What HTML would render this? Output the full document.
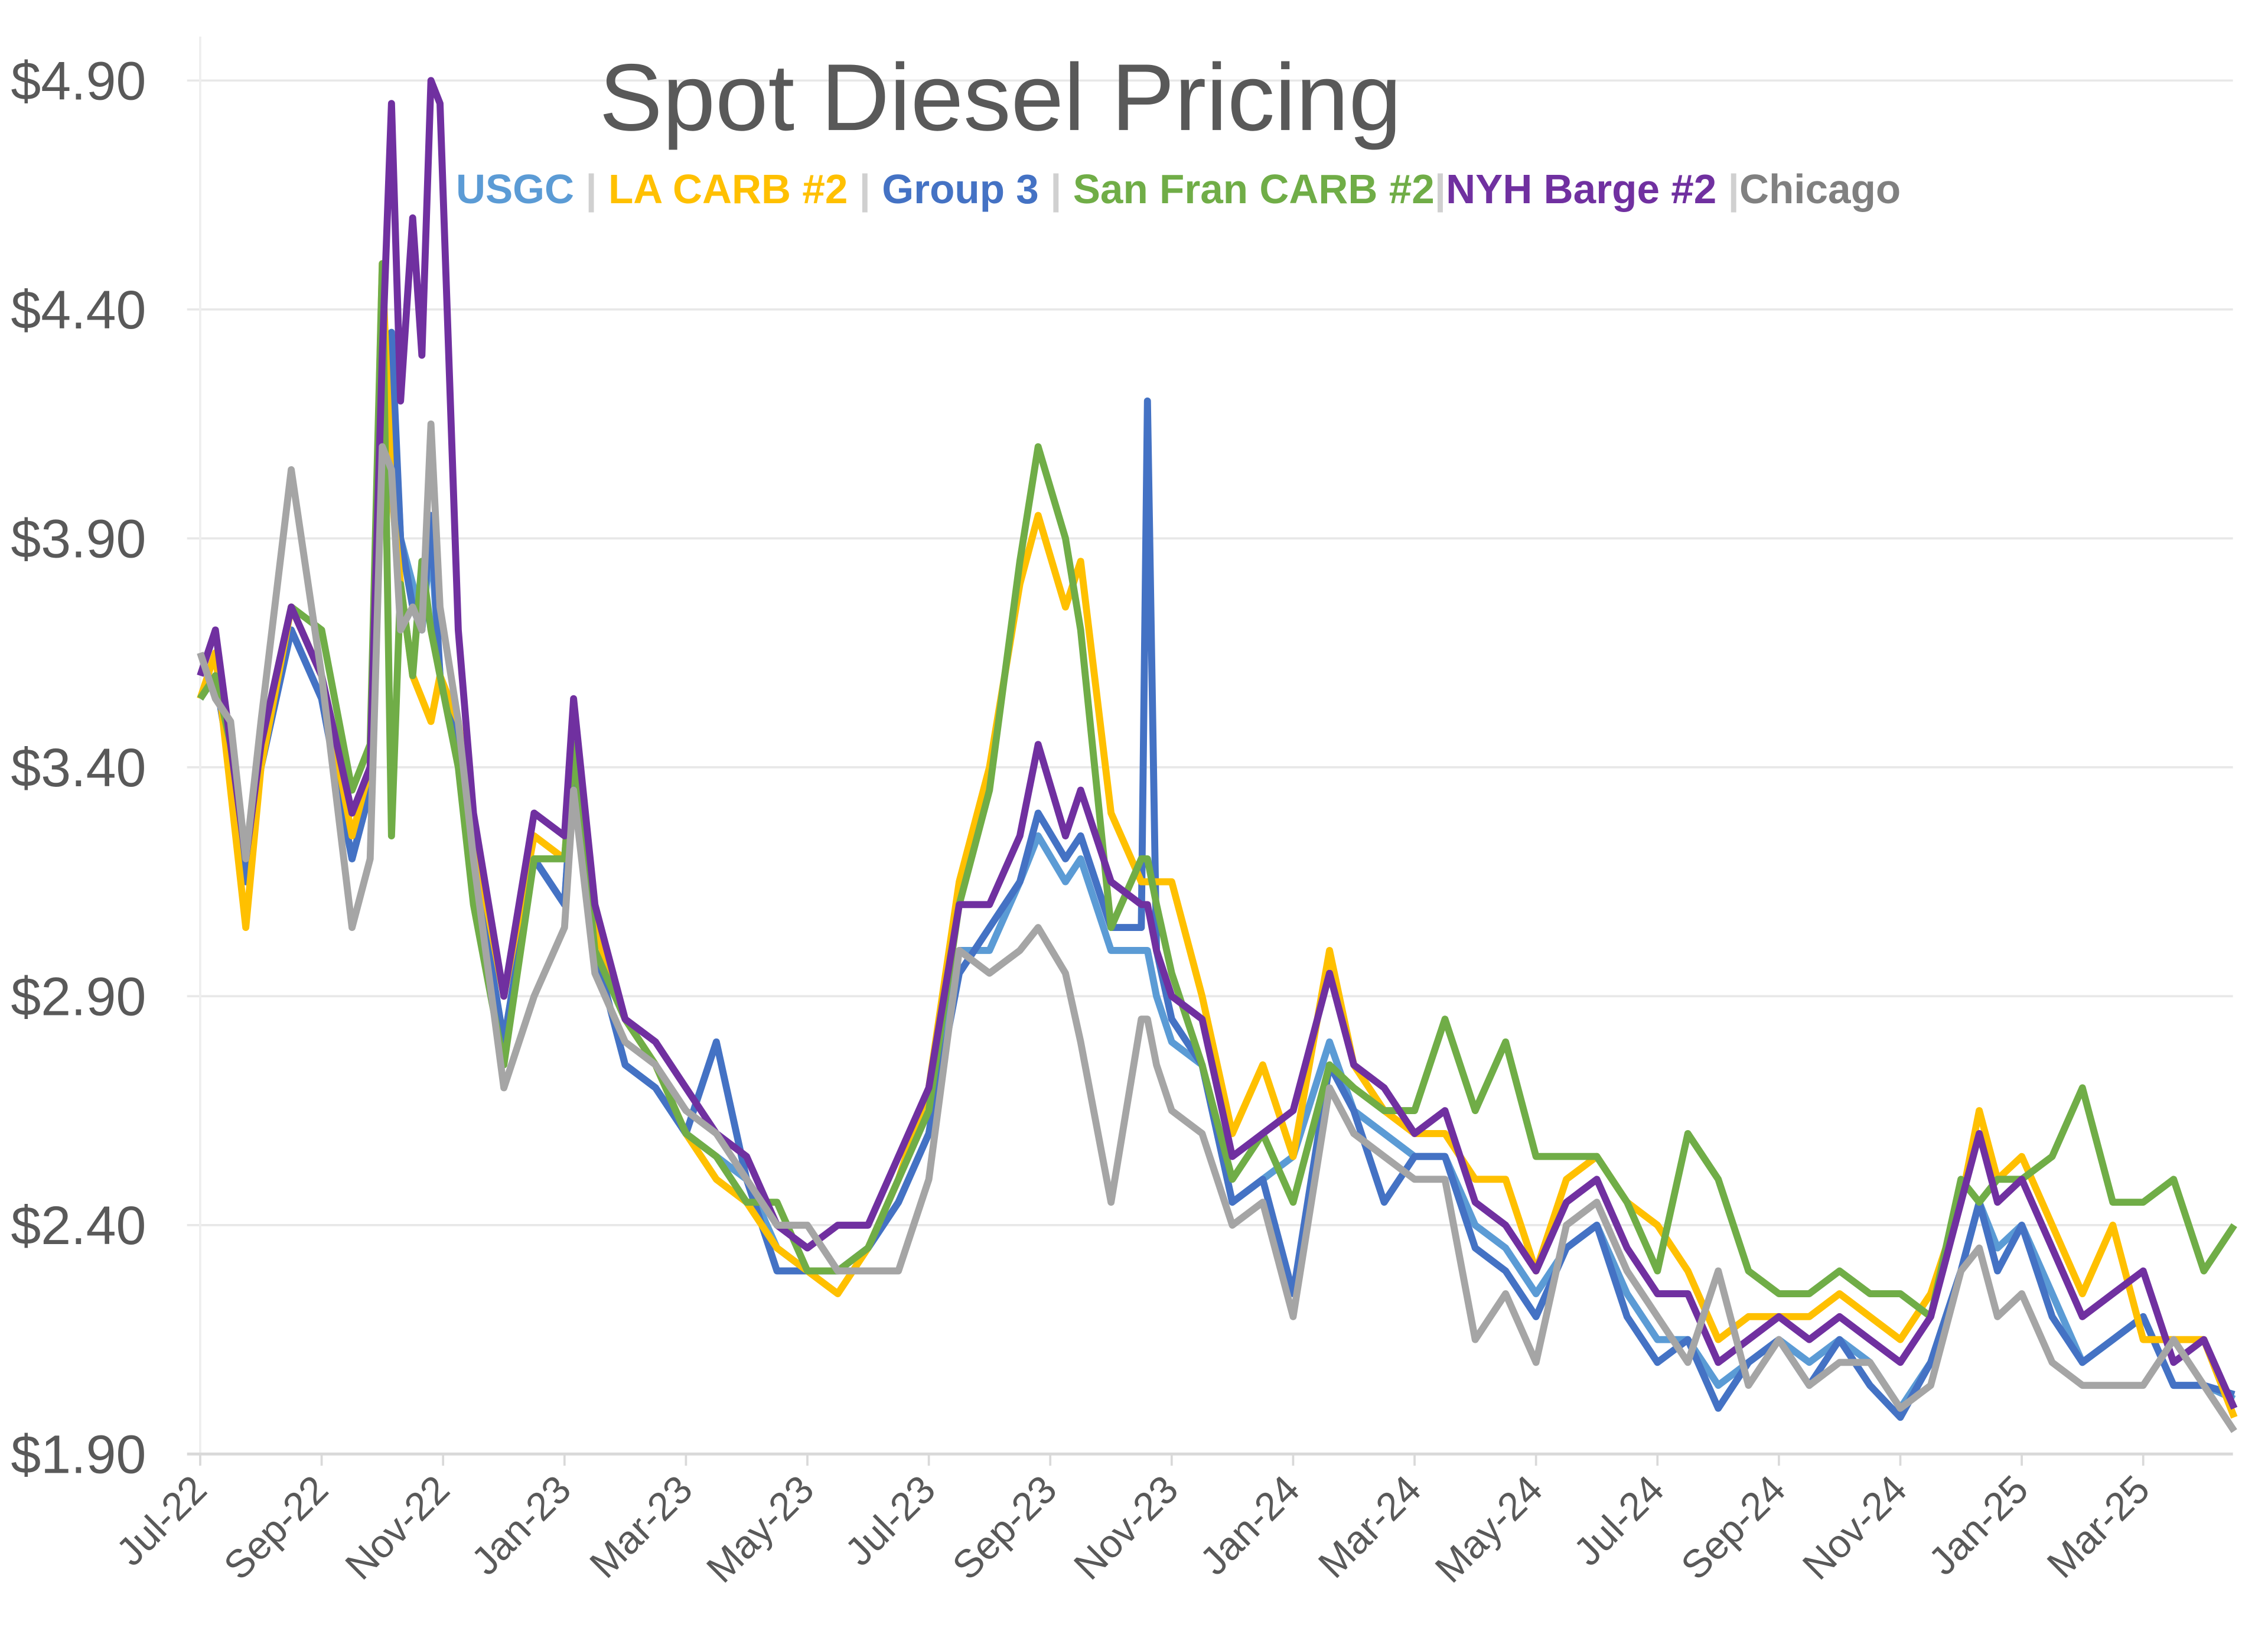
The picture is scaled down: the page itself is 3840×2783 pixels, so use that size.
<!DOCTYPE html>
<html><head><meta charset="utf-8"><title>Spot Diesel Pricing</title>
<style>html,body{margin:0;padding:0;background:#fff}svg{display:block}</style></head>
<body>
<svg id="chart" xmlns="http://www.w3.org/2000/svg" width="3840" height="2783" viewBox="0 0 1552 1125" preserveAspectRatio="none" font-family="'Liberation Sans', sans-serif">
<rect width="1552" height="1125" fill="#fff"/>
<g id="grid"></g>
<g id="yax"></g>
<g id="xax"></g>
<g id="series"></g>
<text x="410" y="89" font-size="65" fill="#595959">Spot Diesel Pricing</text>
<text x="312" y="139" font-size="28" font-weight="bold">
<tspan fill="#5B9BD5">USGC</tspan><tspan fill="#d0d0d0"> | </tspan><tspan fill="#FFC000">LA CARB #2</tspan><tspan fill="#d0d0d0"> | </tspan><tspan fill="#4472C4">Group 3</tspan><tspan fill="#d0d0d0"> | </tspan><tspan fill="#70AD47">San Fran CARB #2</tspan><tspan fill="#d0d0d0">|</tspan><tspan fill="#7030A0">NYH Barge #2</tspan><tspan fill="#d0d0d0"> |</tspan><tspan fill="#808080">Chicago</tspan>
</text>
</svg>
<script>
const months = [0,0.25,0.5,0.75,1,1.5,2,2.5,2.8,3.0,3.15,3.3,3.5,3.65,3.8,3.95,4.25,4.5,5,5.5,6,6.15,6.5,7,7.5,8,8.5,9,9.5,10,10.5,11,11.5,12,12.5,13,13.5,13.8,14.25,14.5,15,15.5,15.6,15.75,16,16.5,17,17.5,18,18.6,19,19.5,20,20.5,21,21.5,22,22.5,23,23.5,24,24.5,25,25.5,26,26.5,27,27.5,28,28.5,29,29.3,29.6,30,30.5,31,31.5,32,32.5,33,33.5];
const usgc = [3.55,3.60,3.40,3.15,3.40,3.70,3.55,3.20,3.35,4.10,4.30,3.90,3.80,3.70,3.90,3.60,3.45,3.20,2.80,3.20,3.10,3.40,3.00,2.75,2.70,2.60,2.55,2.50,2.35,2.30,2.30,2.35,2.45,2.60,3.00,3.00,3.15,3.25,3.15,3.20,3.00,3.00,3.00,2.90,2.80,2.75,2.45,2.50,2.55,2.80,2.65,2.60,2.55,2.55,2.40,2.35,2.25,2.35,2.40,2.25,2.15,2.15,2.05,2.10,2.15,2.10,2.15,2.10,2.00,2.10,2.30,2.45,2.35,2.40,2.25,2.10,2.15,2.20,2.05,2.05,2.02];
const laCarb = [3.55,3.65,3.35,3.05,3.40,3.75,3.60,3.25,3.40,4.50,4.00,3.80,3.60,3.55,3.50,3.60,3.50,3.25,2.90,3.25,3.20,3.45,3.05,2.85,2.75,2.60,2.50,2.45,2.35,2.30,2.25,2.35,2.50,2.70,3.15,3.40,3.80,3.95,3.75,3.85,3.30,3.15,3.15,3.15,3.15,2.90,2.60,2.75,2.55,3.00,2.75,2.65,2.60,2.60,2.50,2.50,2.30,2.50,2.55,2.45,2.40,2.30,2.15,2.20,2.20,2.20,2.25,2.20,2.15,2.25,2.45,2.65,2.50,2.55,2.40,2.25,2.40,2.15,2.15,2.15,1.98];
const group3 = [3.55,3.60,3.40,3.15,3.40,3.70,3.55,3.20,3.35,4.20,4.35,3.90,3.75,3.70,3.95,3.60,3.45,3.20,2.80,3.20,3.10,3.40,3.00,2.75,2.70,2.60,2.80,2.50,2.30,2.30,2.30,2.35,2.45,2.60,2.95,3.05,3.15,3.30,3.20,3.25,3.05,3.05,4.20,3.00,2.85,2.75,2.45,2.50,2.25,2.75,2.65,2.45,2.55,2.55,2.35,2.30,2.20,2.35,2.40,2.20,2.10,2.15,2.00,2.10,2.15,2.05,2.15,2.05,1.98,2.10,2.30,2.45,2.30,2.40,2.20,2.10,2.15,2.20,2.05,2.05,2.03];
const sanFran = [3.55,3.60,3.45,3.20,3.45,3.75,3.70,3.35,3.45,4.50,3.25,3.80,3.60,3.85,3.70,3.60,3.40,3.10,2.75,3.20,3.20,3.45,3.00,2.85,2.75,2.60,2.55,2.45,2.45,2.30,2.30,2.35,2.50,2.65,3.10,3.35,3.85,4.10,3.90,3.70,3.05,3.20,3.20,3.10,2.95,2.75,2.50,2.60,2.45,2.75,2.70,2.65,2.65,2.85,2.65,2.80,2.55,2.55,2.55,2.45,2.30,2.60,2.50,2.30,2.25,2.25,2.30,2.25,2.25,2.20,2.50,2.45,2.50,2.50,2.55,2.70,2.45,2.45,2.50,2.30,2.40];
const nyh = [3.60,3.70,3.45,3.20,3.45,3.75,3.60,3.30,3.40,4.30,4.85,4.20,4.60,4.30,4.90,4.85,3.70,3.30,2.90,3.30,3.25,3.55,3.10,2.85,2.80,2.70,2.60,2.55,2.40,2.35,2.40,2.40,2.55,2.70,3.10,3.10,3.25,3.45,3.25,3.35,3.15,3.10,3.10,3.00,2.90,2.85,2.55,2.60,2.65,2.95,2.75,2.70,2.60,2.65,2.45,2.40,2.30,2.45,2.50,2.35,2.25,2.25,2.10,2.15,2.20,2.15,2.20,2.15,2.10,2.20,2.45,2.60,2.45,2.50,2.35,2.20,2.25,2.30,2.10,2.15,2.00];
const chicago = [3.65,3.55,3.50,3.20,3.50,4.05,3.60,3.05,3.20,4.10,4.05,3.70,3.75,3.70,4.15,3.75,3.50,3.20,2.70,2.90,3.05,3.35,2.95,2.80,2.75,2.65,2.60,2.50,2.40,2.40,2.30,2.30,2.30,2.50,3.00,2.95,3.00,3.05,2.95,2.80,2.45,2.85,2.85,2.75,2.65,2.60,2.40,2.45,2.20,2.70,2.60,2.55,2.50,2.50,2.15,2.25,2.10,2.40,2.45,2.30,2.20,2.10,2.30,2.05,2.15,2.05,2.10,2.10,2.00,2.05,2.30,2.35,2.20,2.25,2.10,2.05,2.05,2.05,2.15,2.05,1.95];
const yTicks = [1.90,2.40,2.90,3.40,3.90,4.40,4.90];
const xTickLabels = ["Jul-22","Sep-22","Nov-22","Jan-23","Mar-23","May-23","Jul-23","Sep-23","Nov-23","Jan-24","Mar-24","May-24","Jul-24","Sep-24","Nov-24","Jan-25","Mar-25"];
const xTickMonths = [0,2,4,6,8,10,12,14,16,18,20,22,24,26,28,30,32];

const NS="http://www.w3.org/2000/svg";
const X0=137, MW=41.55, Y0=995, PX=313.3, PMIN=1.90;
function xs(t){return X0+t*MW;}
function ys(p){return Y0-(p-PMIN)*PX;}
function mk(tag,attrs,parent){const e=document.createElementNS(NS,tag);for(const k in attrs)e.setAttribute(k,attrs[k]);parent.appendChild(e);return e;}

const grid=document.getElementById('grid'), yax=document.getElementById('yax'), xax=document.getElementById('xax'), ser=document.getElementById('series');
yTicks.forEach((v,i)=>{
  const y=ys(v);
  if(i>0){const g=mk('line',{x1:128,x2:1528,y1:y,y2:y,stroke:'#e8e8e8','stroke-width':1.5},grid);
  
  }
  const t=mk('text',{x:100,y:y+13,'font-size':37,fill:'#595959','text-anchor':'end'},yax);
  
  
  t.textContent='$'+v.toFixed(2);
});
const axl=mk('line',{x1:128,x2:1528,y1:Y0,y2:Y0,stroke:'#d9d9d9','stroke-width':2},xax);


const vax=mk('line',{x1:X0,x2:X0,y1:25,y2:1002,stroke:'#eeeeee','stroke-width':1.5},grid);


xTickLabels.forEach((lab,i)=>{
  const x=xs(xTickMonths[i]);
  const tk=mk('line',{x1:x,x2:x,y1:Y0,y2:Y0+8,stroke:'#d9d9d9','stroke-width':1.5},xax);
  
  
  const t=mk('text',{x:x+6,y:Y0+26,'font-size':27,fill:'#595959','text-anchor':'end',transform:`rotate(-45 ${x+6} ${Y0+26})`},xax);
  
  
  t.textContent=lab;
});
const seriesList=[
  ['usgc-line',usgc,'#5B9BD5'],
  ['group3-line',group3,'#4472C4'],
  ['la-carb-line',laCarb,'#FFC000'],
  ['san-fran-line',sanFran,'#70AD47'],
  ['nyh-line',nyh,'#7030A0'],
  ['chicago-line',chicago,'#A5A5A5']
];
seriesList.forEach(([name,vals,col])=>{
  const d=vals.map((v,i)=>(i?'L':'M')+xs(months[i]).toFixed(1)+' '+ys(v).toFixed(1)).join(' ');
  const p=mk('path',{d:d,fill:'none',stroke:col,'stroke-width':4.8,'stroke-linejoin':'round'},ser);
  
  
});
</script>
</body></html>
